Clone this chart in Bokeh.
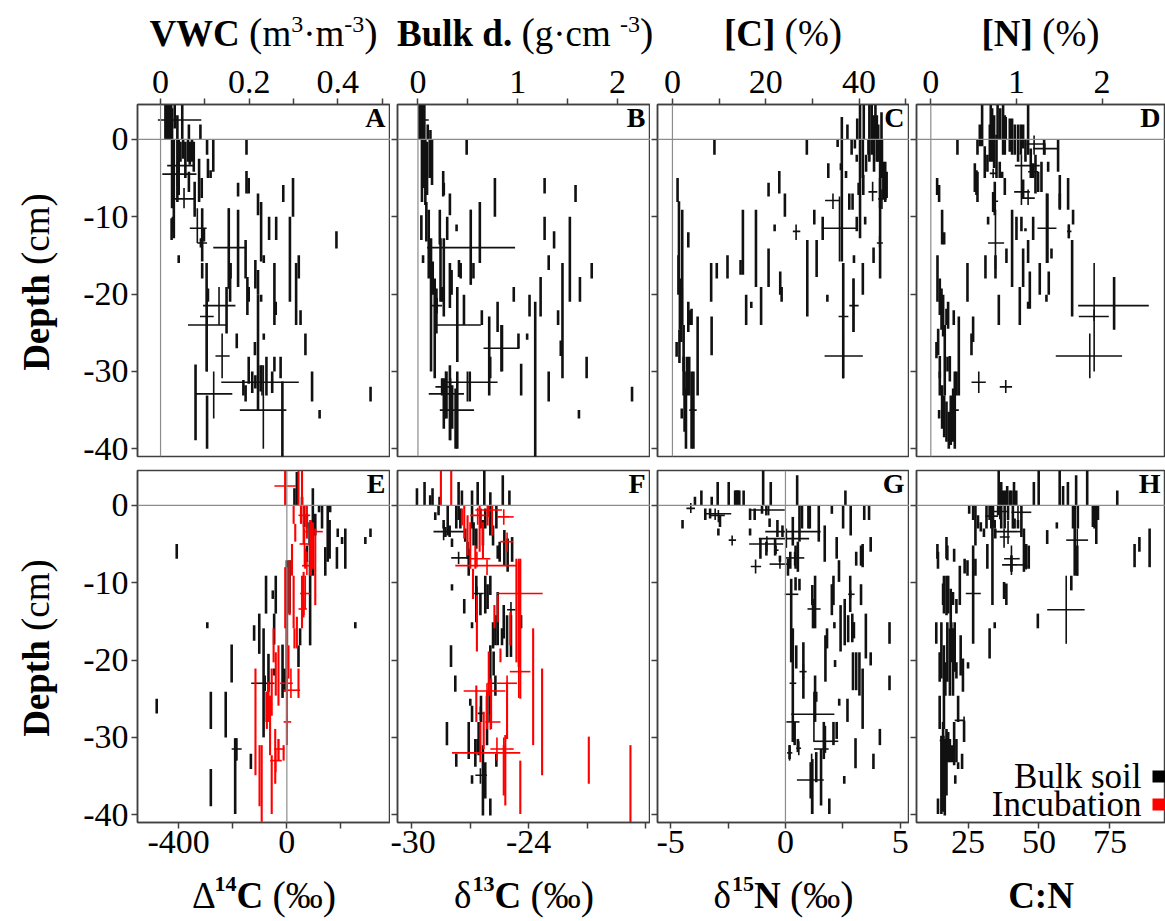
from bokeh.plotting import figure
from bokeh.layouts import row, column
from bokeh.models import Range1d, FixedTicker, Label, Span, BoxAnnotation, Div, Spacer
from bokeh.core.properties import value
from bokeh.embed import file_html
from bokeh.resources import INLINE

# ---------------- data (x value, depth top, depth bottom) ----------------
DEPTH_TICKS = [-40, -30, -20, -10, 0]
DEPTH_LABELS = {-40: "-40", -30: "-30", -20: "-20", -10: "-10", 0: "0"}
DEPTH_RANGE = (-41.0, 4.5)

# Panel A : VWC (m3 m-3)
A_TICKS = [0, 0.1, 0.2, 0.3, 0.4, 0.5]
A_LABELS = {0: "0", 0.1: "", 0.2: "0.2", 0.3: "", 0.4: "0.4", 0.5: ""}
A_SEGS = [
    (0.011, 5, 0), (0.014, 5, 0), (0.017, 5, 0), (0.021, 5, 0), (0.024, 5, 0), (0.026, 4.0, 0),
    (0.032, 5, 1.4), (0.038, 3.1, 0), (0.049, 5, 0), (0.064, 1.9, 0), (0.090, 1.9, 0),
    (0.026, 0, -8.9), (0.030, 0, -12.8), (0.038, 0, -8.1), (0.041, 0, -7.2), (0.045, -0.3, -2.9),
    (0.051, 0, -2.5), (0.056, -0.3, -5.0), (0.062, 0, -2.9), (0.066, -0.3, -3.3), (0.071, 0, -2.9),
    (0.075, -0.3, -4.2), (0.105, 0, -2.0), (0.107, -2.5, -5.0), (0.113, -4.0, -5.0), (0.119, 0, -4.2),
    (0.194, 0, -2.0), (0.194, -4.1, -7.0), (0.199, -5.0, -7.0), (0.175, -5.6, -7.4), (0.064, -4.2, -6.8),
    (0.077, -5.5, -10.0), (0.087, -2.5, -8.1), (0.093, -5.0, -7.6), (0.094, -8.9, -15.8),
    (0.098, -11.5, -13.2), (0.028, -10.0, -11.9), (0.041, -15.0, -16.0), (0.025, -10.2, -13.0),
    (0.154, -8.9, -19.3), (0.175, -9.1, -19.1), (0.192, -13.0, -18.0), (0.214, -15.6, -19.3),
    (0.220, -7.0, -9.8), (0.227, -8.1, -15.8), (0.233, -15.0, -16.0), (0.245, -10.0, -13.0),
    (0.261, -10.0, -13.0), (0.277, -5.9, -8.1), (0.299, -5.0, -10.0), (0.292, -10.0, -21.0),
    (0.312, -15.0, -18.0), (0.306, -16.0, -24.0), (0.316, -22.1, -24.0), (0.257, -16.0, -24.0),
    (0.260, -21.0, -22.7), (0.327, -25.1, -27.9), (0.397, -11.9, -14.1), (0.474, -32.0, -33.9),
    (0.342, -30.0, -33.9), (0.359, -35.0, -36.1), (0.094, -16.0, -18.0), (0.104, -16.0, -30.0),
    (0.107, -19.3, -21.0), (0.157, -16.0, -21.0), (0.158, -16.0, -18.0), (0.196, -17.8, -22.7),
    (0.199, -19.1, -21.0), (0.220, -16.9, -20.1), (0.227, -20.1, -21.0), (0.233, -25.1, -25.9),
    (0.213, -26.2, -27.9), (0.172, -25.1, -27.0), (0.220, -20.1, -35.0), (0.199, -28.1, -31.6),
    (0.207, -30.0, -32.8), (0.214, -30.5, -32.2), (0.226, -29.2, -32.6), (0.239, -28.1, -33.1),
    (0.252, -30.0, -32.8), (0.257, -28.1, -30.0), (0.271, -28.1, -30.9), (0.275, -31.3, -41.5),
    (0.187, -31.1, -33.1), (0.192, -31.8, -33.9), (0.079, -29.1, -38.9), (0.105, -33.1, -40.0),
    (0.149, -19.1, -25.1),
]
# crosses: (x, depth, x low, x high, depth top, depth bottom)
A_CROSS = [
    (0.017, 2.5, -0.006, 0.092, 5.0, 0.0), (0.041, -3.4, 0.015, 0.077, -2.0, -5.0),
    (0.038, -4.5, 0.004, 0.081, -3.0, -6.0), (0.053, -7.7, 0.030, 0.077, -6.3, -8.9),
    (0.083, -11.5, 0.066, 0.104, -8.9, -13.4), (0.090, -13.4, 0.083, 0.105, -12.8, -14.0),
    (0.154, -14.0, 0.119, 0.194, -8.9, -19.3), (0.132, -21.5, 0.096, 0.169, -19.1, -24.0),
    (0.105, -22.9, 0.089, 0.120, -21.5, -24.0), (0.105, -24.0, 0.062, 0.149, -20.1, -30.0),
    (0.139, -28.0, 0.124, 0.156, -25.1, -30.9), (0.229, -31.4, 0.137, 0.312, -29.2, -33.1),
    (0.232, -35.0, 0.179, 0.284, -29.2, -40.0), (0.120, -32.9, 0.079, 0.162, -30.0, -36.1),
]

# Panel B : bulk density (g cm-3)
B_TICKS = [0, 0.5, 1, 1.5, 2]
B_LABELS = {0: "0", 0.5: "", 1: "1", 1.5: "", 2: "2"}
B_SEGS = [
    (0.013, 5, 0), (0.030, 5, 0), (0.047, 5, 0), (0.064, 5, 0), (0.098, 1.9, 0), (0.125, 1.2, 0),
    (0.040, 0, -8.1), (0.057, 0, -6.3), (0.074, 0, -8.5), (0.091, -0.3, -7.2), (0.118, 0, -5.0),
    (0.141, 0, -5.9), (0.488, 0, -2.0), (0.253, -4.1, -7.4), (0.259, -5.6, -7.2), (0.320, -7.0, -9.8),
    (0.387, -11.0, -11.9), (0.219, -9.1, -13.6), (0.293, -10.0, -13.0), (0.529, -9.1, -18.8),
    (0.620, -8.1, -16.0), (0.771, -5.0, -10.0), (1.269, -5.0, -7.0), (1.269, -10.0, -13.0),
    (1.364, -11.9, -14.1), (1.579, -5.9, -8.1), (1.522, -10.0, -21.0), (1.310, -15.0, -16.9),
    (1.741, -16.0, -18.0), (1.448, -16.0, -30.9), (1.623, -17.8, -21.0), (0.960, -19.1, -21.0),
    (1.118, -20.1, -22.9), (1.175, -21.0, -41.5), (1.229, -17.8, -22.9), (1.404, -22.1, -24.0),
    (1.094, -25.1, -25.9), (1.431, -26.0, -28.0), (1.690, -28.1, -30.9), (2.145, -32.0, -33.9),
    (1.613, -35.0, -36.1), (1.034, -29.0, -33.1), (1.310, -30.0, -33.9), (0.714, -22.9, -33.1),
    (0.798, -21.0, -24.9), (0.842, -24.0, -30.0), (0.724, -28.1, -30.9), (1.007, -25.1, -27.0),
    (0.034, -9.8, -13.0), (0.051, -15.0, -16.0), (0.084, -8.1, -13.2), (0.108, -9.1, -18.0),
    (0.131, -12.8, -30.0), (0.148, -15.8, -20.1), (0.168, -18.0, -30.9), (0.185, -19.3, -25.1),
    (0.226, -12.8, -21.0), (0.242, -19.1, -21.0), (0.259, -12.8, -22.9), (0.320, -16.0, -21.8),
    (0.337, -16.9, -20.1), (0.394, -19.1, -28.8), (0.411, -15.6, -17.8), (0.428, -16.0, -18.0),
    (0.461, -20.1, -24.0), (0.556, -16.0, -18.0), (0.519, -30.0, -33.9), (0.640, -22.1, -24.0),
    (0.242, -30.9, -33.1), (0.259, -30.9, -37.4), (0.286, -30.0, -36.1), (0.320, -29.2, -38.9),
    (0.343, -31.8, -37.4), (0.377, -32.2, -40.0), (0.394, -30.0, -40.0),
]
B_CROSS = [
    (0.040, 2.5, 0.007, 0.108, 3.5, 1.5), (0.529, -14.0, 0.091, 0.973, -9.1, -18.8),
    (0.192, -21.5, 0.141, 0.242, -20.5, -22.5), (0.394, -24.0, 0.168, 0.630, -19.1, -28.8),
    (0.832, -27.0, 0.657, 1.017, -24.0, -30.0), (0.495, -31.4, 0.242, 0.798, -30.0, -33.9),
    (0.276, -32.9, 0.108, 0.461, -30.0, -36.1), (0.327, -35.0, 0.219, 0.562, -30.9, -38.9),
    (0.276, -32.0, 0.175, 0.327, -31.0, -33.0),
]

# Panel C : [C] (%)
C_TICKS = [0, 10, 20, 30, 40, 50]
C_LABELS = {0: "0", 10: "", 20: "20", 30: "", 40: "40", 50: ""}
C_SEGS = [
    (1.1, -5.0, -8.1), (2.1, -9.1, -24.0), (3.4, -12.0, -14.0), (1.3, -15.0, -20.1), (1.6, -18.0, -24.6),
    (2.0, -19.3, -24.0), (1.5, -24.6, -28.9), (0.9, -26.2, -28.1), (2.4, -28.1, -33.1), (3.4, -21.0, -24.9),
    (3.8, -22.1, -24.0), (4.1, -21.9, -24.0), (5.4, -22.9, -33.1), (3.1, -28.1, -33.1), (2.6, -30.0, -37.8),
    (2.9, -32.2, -40.0), (3.6, -28.1, -33.1), (4.1, -30.0, -40.0), (4.5, -30.0, -40.0), (2.0, -34.8, -36.1),
    (2.4, -24.0, -30.0), (1.9, -20.1, -26.2), (1.4, -8.0, -20.0),
    (9.0, 0, -2.0), (28.8, 0, -2.0), (8.3, -16.0, -21.0), (9.5, -16.0, -18.0), (11.8, -15.0, -18.0),
    (8.4, -22.9, -27.9), (15.1, -9.1, -17.5), (14.6, -15.6, -17.5), (17.9, -9.1, -19.1), (15.8, -20.1, -24.0),
    (16.9, -21.0, -21.8), (19.0, -19.1, -24.0), (20.6, -14.1, -19.1), (20.6, -5.6, -7.4), (22.9, -4.1, -7.0),
    (24.1, -7.0, -10.0), (21.9, -11.0, -11.9), (23.1, -17.1, -20.1), (23.4, -19.1, -21.0), (28.9, -13.0, -22.9),
    (30.9, -13.0, -17.8), (30.4, -9.1, -11.0), (32.2, -10.0, -13.0), (33.4, -3.1, -5.0), (33.2, -20.1, -21.0),
    (35.4, 0, -1.0), (36.3, 2.9, -15.8), (36.6, -16.0, -30.9), (38.8, -18.0, -24.9), (38.9, -15.0, -16.0),
    (40.8, -16.0, -20.1), (43.1, -14.0, -16.0), (44.5, -5.0, -18.0), (41.3, -10.0, -11.0), (39.5, -10.0, -11.9),
    (38.6, -7.0, -9.1), (37.9, -7.0, -9.1), (37.2, -4.1, -5.0), (36.1, -3.1, -4.0),
    (37.5, 1.9, 0), (38.4, 0, -2.0), (39.1, 0, -1.2), (39.6, 2.7, 0), (40.2, 5, -12.8), (40.8, 0, -5.0),
    (42.2, 5, -2.9), (42.7, 5, -2.0), (43.2, 3.1, -4.2), (43.8, 3.1, -2.9), (44.1, 1.9, -2.9), (44.5, 0, -8.9),
    (44.9, 0, -5.0), (45.2, -2.9, -7.6), (45.6, -2.9, -8.1), (45.9, -4.2, -7.6), (42.0, 0, -2.0),
    (41.5, -2.0, -4.2), (40.9, -4.6, -7.2), (39.5, -2.0, -2.9), (39.9, -5.6, -7.2), (41.0, 5, 0),
    (43.5, 5, 0), (44.8, 3.5, 0),
]
C_CROSS = [
    (4.4, -35.0, 3.6, 5.2, -33.5, -36.5), (34.4, -7.9, 32.7, 35.9, -7.0, -9.0),
    (35.8, -11.5, 32.0, 39.7, -7.4, -15.8), (26.5, -11.9, 25.8, 27.4, -11.0, -13.0),
    (36.6, -22.9, 35.6, 37.7, -16.0, -30.9), (38.8, -21.5, 37.9, 39.9, -18.0, -24.9),
    (36.6, -28.0, 32.6, 40.8, -25.1, -30.9), (42.9, -6.8, 42.0, 43.9, -5.5, -8.0),
    (44.9, -7.7, 44.1, 45.9, -6.5, -9.0), (44.4, -13.4, 43.8, 45.1, -12.5, -14.0),
]

# Panel D : [N] (%)
D_TICKS = [0, 1, 2]
D_LABELS = {0: "0", 1: "1", 2: "2"}
D_SEGS = [
    (0.074, -5.0, -7.2), (0.097, -5.9, -8.1), (0.132, -9.1, -13.6), (0.156, -12.0, -13.6), (0.078, -15.0, -21.0),
    (0.105, -18.0, -22.7), (0.125, -19.3, -24.6), (0.144, -20.1, -25.5), (0.086, -24.5, -27.9), (0.066, -26.2, -28.3),
    (0.105, -28.0, -30.9), (0.163, -24.0, -33.1), (0.183, -21.9, -24.0), (0.195, -28.1, -30.0), (0.105, -30.0, -33.1),
    (0.132, -31.8, -37.4), (0.156, -33.1, -38.5), (0.183, -33.9, -39.1), (0.210, -35.2, -40.0), (0.233, -33.1, -39.5),
    (0.261, -32.2, -39.1), (0.280, -30.0, -40.0), (0.300, -30.0, -33.1), (0.268, -22.1, -24.0), (0.327, -22.9, -33.1),
    (0.097, -35.0, -36.1), (0.202, -21.0, -24.5), (0.222, -28.0, -31.3),
    (0.311, 0, -2.0), (0.514, -3.1, -6.8), (0.533, -4.0, -7.2), (0.545, -4.2, -8.1), (0.428, -16.0, -21.0),
    (0.475, -25.1, -27.9), (0.494, -22.9, -26.2), (0.638, -15.0, -18.0), (0.669, -10.0, -11.0), (0.755, -15.0, -18.0),
    (0.794, -20.1, -24.0), (0.864, -5.0, -7.2), (0.883, -14.1, -16.0), (0.949, -9.1, -19.1), (1.000, -10.0, -13.0),
    (1.039, -19.1, -24.0), (1.078, -14.1, -19.1), (1.058, -10.0, -11.9), (1.136, -13.0, -16.0), (1.156, -17.1, -21.9),
    (1.195, -10.0, -13.0), (1.272, -16.0, -20.1), (1.362, -7.0, -16.0), (1.377, -17.1, -20.1), (1.409, -14.1, -15.4),
    (1.350, -20.1, -21.0), (1.506, -7.0, -9.1), (1.603, -5.0, -9.1), (1.661, -9.1, -11.0), (1.650, -13.0, -22.9),
    (1.611, -11.0, -12.8), (1.136, -21.0, -21.9), (1.078, -5.2, -7.6), (1.105, -11.5, -11.9), (2.140, -17.8, -24.6),
    (0.545, 0, -2.0), (0.572, 1.9, -0.9), (0.599, 4.5, -0.9), (0.630, -0.9, -5.0), (0.661, -2.0, -4.2),
    (0.689, 1.9, -2.9), (0.716, 4.0, -2.9), (0.739, 3.1, -3.7), (0.767, 0.6, -5.0), (0.805, -2.9, -5.0),
    (0.833, -4.2, -5.0), (0.844, 5, -2.0), (0.864, 3.1, -2.0), (0.875, 2.9, 0), (0.922, 2.7, -1.6),
    (0.949, 2.7, -2.0), (0.981, 1.9, -2.0), (1.019, 1.9, -2.9), (1.051, 1.9, -2.0), (1.078, 1.9, -1.2),
    (1.105, 0, -2.9), (1.136, 4.5, -2.0), (1.167, -1.2, -5.0), (1.195, -3.1, -5.0), (1.222, -2.0, -7.0),
    (1.253, -4.2, -6.8), (1.292, -2.9, -6.8), (1.323, 0, -2.0), (1.370, -2.9, -4.2), (1.486, 0, -4.2),
    (1.506, -4.6, -8.9), (0.747, -5.5, -9.8), (0.728, -6.8, -9.4), (0.700, 5, 0), (0.780, 5, 0), (0.810, 4, 0),
]
D_CROSS = [
    (0.272, -35.0, 0.222, 0.327, -33.5, -36.5), (1.206, -0.6, 1.117, 1.323, 0.5, -2.0),
    (1.331, -1.2, 1.195, 1.486, -0.5, -2.0), (1.058, -3.4, 0.981, 1.272, -2.0, -5.0),
    (1.195, -4.2, 1.136, 1.253, -3.5, -5.0), (0.728, -4.4, 0.689, 0.767, -3.8, -5.0),
    (1.058, -6.8, 0.973, 1.156, -5.0, -8.5), (1.136, -7.6, 1.058, 1.214, -6.5, -8.5),
    (0.747, -8.0, 0.716, 0.786, -7.5, -8.5), (1.350, -11.5, 1.245, 1.467, -7.0, -16.0),
    (1.611, -11.9, 1.591, 1.642, -11.0, -12.8), (0.755, -13.4, 0.669, 0.856, -9.1, -16.8),
    (1.907, -21.5, 1.720, 2.545, -16.0, -30.0), (1.907, -22.9, 1.728, 2.078, -22.0, -23.5),
    (1.856, -28.0, 1.459, 2.233, -25.1, -30.9), (0.560, -31.4, 0.475, 0.642, -30.0, -32.8),
    (0.875, -32.0, 0.805, 0.949, -31.1, -32.8),
]

# Panel E : Delta14C (permil)
E_TICKS = [-400, -200, 0, 200]
E_LABELS = {-400: "-400", -200: "", 0: "0", 200: ""}
E_SEGS_BULK = [
    (-407, -5.0, -6.9), (-481, -25.0, -26.9), (-294, -15.1, -15.9), (-204, -18.0, -22.9), (-281, -24.1, -28.9),
    (-226, -24.1, -30.0), (-281, -34.1, -38.9), (-191, -30.1, -39.9), (-188, -30.1, -33.0), (-133, -32.1, -34.1),
    (-121, -15.5, -17.5), (-102, -14.0, -19.2), (-86, -15.9, -30.0), (-77, -9.1, -14.0), (-52, -11.0, -12.1),
    (-41, -9.1, -14.0), (-68, -19.2, -24.1), (-74, -24.1, -28.0), (-47, -14.0, -18.0), (-47, -21.1, -22.0),
    (-16, -18.0, -24.9), (-9, -21.1, -24.1), (0, -7.1, -21.1), (10, -7.1, -14.0), (28, 2.2, 0), (37, 4.3, 0),
    (56, 1.1, 0), (64, 0, -2.8), (74, -1.1, -3.0), (84, -2.2, -5.2), (96, 2.2, 0), (96, 0, -9.1),
    (105, -1.1, -3.9), (119, 0, -0.9), (130, 0, -3.0), (142, -5.4, -9.1), (151, 0, -7.3), (158, -1.9, -6.9),
    (160, 0, -0.9), (185, -5.4, -8.2), (188, -3.0, -4.1), (204, -4.1, -5.0), (216, -3.0, -8.2), (290, -4.1, -5.0),
    (309, -3.0, -4.1), (253, -15.1, -15.9), (86, -7.1, -18.1), (49, -15.9, -18.1), (43, -18.1, -20.9),
    (74, -5.2, -7.3), (86, -5.2, -9.1),
]
E_CROSS_BULK = [(-80, -23.0, -132, -46, -22.0, -24.0), (-185, -31.5, -204, -167, -30.1, -33.0)]
E_SEGS_INC = [
    (-6, 4.5, 0), (43, 4.5, 0), (56, 4.5, 0), (52, 0, -2.4), (25, 0, -2.4), (31, -2.4, -4.7), (62, 0, -5.0),
    (74, 0, -4.3), (86, -1.9, -9.1), (96, -2.2, -8.2), (105, -3.0, -12.9), (19, -5.0, -9.1), (10, -7.1, -14.2),
    (-6, -8.0, -15.9), (0, -8.0, -21.1), (25, -9.1, -15.9), (56, -9.1, -15.9), (37, -14.4, -18.5),
    (28, -15.9, -18.5), (43, -21.1, -24.9), (6, -18.1, -22.4), (0, -22.0, -31.0), (-31, -18.1, -25.9),
    (-41, -19.0, -24.6), (-49, -15.9, -20.3), (-56, -21.1, -27.2), (-62, -24.6, -32.3), (-68, -22.8, -28.0),
    (-74, -24.1, -28.9), (-93, -31.0, -40.9), (-101, -31.0, -38.9), (-116, -21.1, -34.9), (-43, -28.9, -36.0),
    (-56, -32.3, -39.9), (-31, -30.2, -33.0), (-12, -31.0, -33.0), (62, -8.6, -14.2), (68, -5.6, -8.2),
]
E_CROSS_INC = [
    (-6, 2.5, -46, 33, 4.5, 0), (62, -1.3, 43, 86, 0, -2.4), (90, -3.4, 68, 133, -1.9, -9.1),
    (65, -5.0, 47, 80, -3.0, -8.0), (74, -7.8, 56, 93, -6.0, -9.0), (68, -11.4, 49, 86, -9.1, -13.4),
    (62, -13.4, 43, 74, -12.0, -14.5), (0, -23.0, -25, 22, -21.0, -25.0), (15, -23.9, -12, 49, -21.1, -24.9),
    (0, -28.0, -12, 16, -27.0, -29.0), (-31, -31.5, -46, -9, -30.2, -33.0), (-41, -33.0, -62, -19, -31.5, -34.5),
]

# Panel F : delta13C (permil)
F_TICKS = [-30, -27, -24, -21, -18]
F_LABELS = {-30: "-30", -27: "", -24: "-24", -21: "", -18: ""}
F_SEGS_BULK = [
    (-29.74, 2.2, 0), (-29.35, 3.0, 0), (-29.06, 1.3, 0), (-28.94, 2.2, 0), (-28.58, 1.1, 0), (-27.60, 3.0, 0),
    (-27.43, 1.9, 0), (-26.91, 1.9, 0), (-26.62, 3.0, 0), (-26.28, 4.5, 0), (-25.97, 1.7, 0), (-25.33, 3.9, 0),
    (-24.99, 1.9, 0), (-28.80, -0.9, -1.9), (-28.63, 0, -1.3), (-28.37, -1.9, -3.0), (-28.28, -2.8, -4.1),
    (-28.16, 0, -3.9), (-28.06, -2.6, -4.1), (-27.94, -4.3, -5.4), (-27.72, 0, -3.0), (-27.60, 0, -1.9),
    (-27.51, -0.4, -3.0), (-27.26, -3.0, -4.7), (-27.14, -4.7, -6.9), (-27.08, -5.6, -9.1), (-26.91, 0, -3.0),
    (-26.83, -2.2, -5.2), (-26.69, -3.0, -5.6), (-26.48, -0.4, -3.0), (-26.35, -1.9, -5.2), (-26.23, -0.4, -3.0),
    (-25.97, 0, -3.9), (-25.83, -2.6, -5.2), (-25.66, 0, -3.0), (-25.59, -5.2, -6.9), (-25.49, -4.7, -7.3),
    (-25.25, -3.2, -7.8), (-25.08, -4.3, -8.6), (-24.85, -4.1, -7.3), (-27.94, -10.2, -11.0), (-27.31, -12.1, -14.0),
    (-26.91, -15.1, -15.9), (-26.69, -9.1, -15.1), (-26.48, -11.4, -14.2), (-26.23, -9.1, -14.0), (-26.11, -10.2, -13.4),
    (-25.97, -9.1, -11.6), (-25.83, -15.1, -18.5), (-25.71, -14.2, -18.1), (-25.59, -11.2, -18.1), (-25.37, -15.9, -18.1),
    (-25.28, -12.9, -17.2), (-25.11, -14.2, -19.6), (-24.91, -14.2, -19.6), (-24.39, -14.2, -15.9), (-27.99, -18.1, -20.9),
    (-27.77, -22.0, -24.1), (-27.0, -25.0, -25.9), (-26.91, -25.9, -28.0), (-25.97, -18.1, -22.8), (-25.80, -18.9, -22.0),
    (-25.71, -22.0, -24.6), (-26.0, -23.9, -28.0), (-26.14, -24.6, -31.0), (-28.20, -28.0, -31.0), (-27.08, -28.0, -32.8),
    (-27.72, -32.1, -33.8), (-26.74, -30.2, -33.8), (-26.57, -28.0, -32.3), (-26.45, -24.6, -28.0), (-26.35, -31.0, -40.1),
    (-26.23, -33.2, -37.9), (-26.91, -34.9, -36.0), (-25.97, -37.9, -40.1), (-25.66, -32.1, -33.8), (-26.62, -30.2, -31.9),
]
F_CROSS_BULK = [
    (-28.37, -3.4, -28.89, -27.31, -2.5, -4.5), (-27.60, -6.8, -27.98, -27.08, -6.0, -7.6),
    (-26.66, -11.4, -26.83, -26.31, -10.5, -12.3), (-24.91, -13.5, -25.11, -24.68, -12.5, -14.5),
    (-25.97, -23.0, -26.11, -25.76, -22.0, -24.0), (-26.48, -26.9, -26.62, -26.35, -26.0, -27.8),
    (-26.48, -34.9, -26.74, -26.14, -34.0, -36.0),
]
F_SEGS_INC = [
    (-28.51, 4.5, 0), (-27.98, 4.5, 0), (-27.43, -0.4, -2.6), (-27.31, 0, -4.3), (-27.14, -1.3, -6.5),
    (-27.0, -2.2, -8.2), (-26.74, -5.2, -8.2), (-26.52, 0, -6.0), (-26.35, -2.2, -6.9), (-26.11, 0, -2.6),
    (-25.88, 0, -3.9), (-26.86, -8.2, -12.1), (-26.66, -11.6, -18.9), (-25.76, -12.9, -15.9), (-25.59, -11.6, -15.1),
    (-24.63, -6.9, -20.3), (-24.51, -7.3, -20.9), (-24.43, -6.9, -25.0), (-24.94, -13.8, -18.1), (-26.05, -18.9, -24.6),
    (-26.14, -24.1, -28.9), (-26.31, -26.7, -31.5), (-25.93, -22.4, -28.9), (-25.11, -22.8, -30.2), (-25.20, -29.7, -38.8),
    (-25.28, -31.0, -37.5), (-23.77, -15.9, -31.0), (-23.31, -21.1, -34.9), (-24.43, -33.0, -39.9), (-20.91, -29.9, -36.0),
    (-18.77, -31.0, -41.0), (-26.69, -23.3, -28.0), (-26.48, -28.0, -33.2), (-25.45, -18.5, -20.3),
]
F_CROSS_INC = [
    (-26.62, -1.3, -27.0, -26.23, -0.3, -2.5), (-26.05, -0.6, -26.74, -25.37, 0, -1.5),
    (-25.28, -1.5, -25.63, -24.77, -0.5, -2.5), (-25.11, -4.7, -25.45, -24.80, -3.5, -6.0),
    (-26.66, -6.9, -27.0, -25.97, -6.0, -8.0), (-26.14, -7.8, -27.77, -24.60, -7.0, -9.0),
    (-24.51, -11.4, -25.63, -23.28, -6.9, -20.9), (-24.51, -21.5, -24.97, -23.91, -18.1, -24.9),
    (-25.11, -23.0, -25.63, -24.60, -22.0, -24.0), (-26.14, -24.0, -27.34, -25.20, -23.0, -25.0),
    (-25.97, -28.0, -26.23, -25.45, -27.0, -29.0), (-25.28, -31.5, -25.97, -24.77, -30.0, -33.0),
    (-25.63, -32.0, -27.94, -24.43, -30.0, -33.0),
]

# Panel G : delta15N (permil)
G_TICKS = [-5, -2.5, 0, 2.5, 5]
G_LABELS = {-5: "-5", -2.5: "", 0: "0", 2.5: "", 5: "5"}
G_SEGS = [
    (-3.94, 1.1, 0), (-3.66, 1.9, 0), (-3.21, 1.1, 0), (-2.95, 3.0, 0), (-2.47, 3.0, 0), (-2.19, 1.9, 0),
    (-2.15, 1.9, 0), (-2.10, 1.9, 0), (-2.06, 1.9, 0), (-2.01, 1.9, 0), (-1.82, 1.9, 0), (-0.97, 4.5, 0),
    (-0.64, 3.0, 0), (0.51, 3.9, 0), (2.61, 1.9, 0),
    (-4.48, -1.9, -3.0), (-3.49, -0.4, -1.9), (-3.28, -0.4, -1.7), (-2.92, -3.0, -3.9), (-2.85, -1.3, -2.8),
    (-1.54, -0.4, -1.9), (-1.54, -3.0, -3.9), (-1.34, -0.4, -1.9), (-1.02, 0, -1.1), (-0.83, 0, -1.3),
    (-0.69, -1.7, -2.8), (-0.35, -1.9, -4.1), (-0.13, -2.6, -4.1), (-1.09, -4.3, -6.9), (-0.83, -4.7, -6.5),
    (-0.45, -4.3, -6.5), (-0.24, -6.5, -7.3), (0.11, -6.9, -9.1), (0.21, -6.0, -8.2), (0.32, -1.5, -5.2),
    (0.44, -5.2, -8.2), (0.54, -4.7, -8.6), (0.61, 0, -4.7), (0.72, 0, -3.0), (1.00, 0, -3.0), (1.06, 0, -3.0),
    (1.45, 0, -4.7), (1.71, -2.6, -7.3), (2.02, 0, -1.1), (2.23, -4.1, -6.9), (2.51, 0, -3.0), (2.84, 0, -3.9),
    (3.43, 0, -1.9), (3.64, 0, -1.9), (3.71, -4.1, -6.0), (3.29, -5.2, -7.8), (3.36, -5.0, -8.0), (3.08, -6.0, -7.8),
    (2.33, -7.1, -9.9), (2.82, -9.1, -13.8), (2.09, -9.1, -12.9), (2.02, -10.2, -14.2), (1.29, -9.1, -15.9),
    (1.17, -10.3, -12.9), (1.20, -12.1, -15.9), (0.61, -9.5, -11.0), (0.44, -9.3, -11.0), (0.25, -9.5, -20.3),
    (0.32, -15.9, -30.6), (0.47, -18.1, -21.1), (0.78, -17.7, -25.0), (1.29, -22.0, -28.0), (1.34, -24.1, -25.4),
    (1.81, -15.9, -18.5), (1.74, -16.8, -22.8), (2.13, -15.1, -15.9), (2.40, -12.9, -18.9), (2.58, -12.1, -18.1),
    (2.73, -14.2, -17.7), (2.91, -14.0, -17.7), (2.98, -15.1, -17.2), (3.29, -10.2, -12.9), (3.50, -14.0, -19.8),
    (3.71, -19.0, -20.7), (4.53, -15.1, -17.9), (4.53, -22.0, -23.9), (2.94, -19.0, -23.9), (3.08, -19.0, -23.9),
    (3.22, -19.0, -24.6), (3.36, -21.1, -28.9), (2.16, -20.0, -20.9), (2.34, -25.0, -25.9), (2.70, -25.0, -28.0),
    (4.11, -28.9, -31.0), (3.83, -32.1, -34.1), (3.05, -30.1, -34.0), (2.56, -35.0, -36.0), (2.09, -28.0, -31.0),
    (2.23, -28.0, -30.2), (1.91, -37.9, -39.9), (1.55, -31.5, -38.8), (1.34, -31.9, -35.8), (1.17, -32.8, -39.9),
    (1.10, -33.2, -37.9), (1.67, -28.0, -32.8), (0.40, -28.0, -31.0), (0.18, -31.0, -32.8), (0.54, -30.2, -31.9),
]
G_CROSS = [
    (-4.12, -0.4, -4.31, -3.94, 0.3, -1.0), (-3.06, -1.1, -3.52, -2.36, -0.4, -1.9),
    (-2.92, -1.3, -3.28, -2.64, -0.6, -2.2), (-2.32, -4.5, -2.47, -2.15, -3.9, -5.2),
    (-0.73, -0.6, -1.51, -0.03, 0, -1.3), (0.32, -3.4, -0.88, 1.53, -2.0, -5.0),
    (0.04, -4.3, -1.16, 1.03, -3.0, -5.5), (-0.81, -5.0, -1.58, -0.10, -4.0, -6.0),
    (-0.41, -5.8, -0.5, -0.3, -5.2, -6.3), (0.40, -6.8, 0.01, 0.82, -6.0, -7.8),
    (-0.24, -7.6, -0.69, 0.21, -7.0, -8.2), (-1.30, -7.9, -1.51, -1.06, -7.0, -8.8),
    (0.25, -11.5, -0.03, 0.56, -10.5, -12.3), (1.29, -13.4, 0.96, 1.53, -12.5, -14.5),
    (2.84, -11.5, 2.73, 3.01, -11.0, -12.0), (0.78, -21.5, 0.61, 0.92, -20.5, -22.5),
    (0.32, -23.0, 0.18, 0.47, -22.3, -23.6), (1.24, -27.0, 0.25, 2.13, -24.1, -30.6),
    (0.32, -28.0, 0.04, 0.61, -27.3, -28.7), (1.74, -30.5, 1.24, 2.30, -28.5, -32.0),
    (1.67, -31.5, 1.24, 1.88, -30.5, -32.5), (0.18, -32.0, 0.07, 0.30, -31.0, -33.0),
    (0.58, -31.4, 0.47, 0.68, -30.5, -32.3), (1.14, -35.5, 0.50, 1.67, -32.1, -39.9),
]

# Panel H : C:N
H_TICKS = [25, 50, 75]
H_LABELS = {25: "25", 50: "50", 75: "75"}
H_SEGS = [
    (35.8, 4.5, 0), (37.3, 1.9, 0), (38.1, 1.9, 0), (39.7, 1.9, 0), (40.3, 1.9, 0), (41.2, 3.0, 0), (42.0, 1.9, 0),
    (48.2, 3.0, 0), (49.9, 4.5, 0), (57.3, 4.5, 0), (60.2, 3.0, 0), (63.1, 3.9, 0), (67.0, 4.5, 0), (77.6, 1.9, 0),
    (36.7, 3.0, 0), (38.8, 2.5, 0), (58.5, 2.5, 0),
    (25.4, 0, -1.1), (26.8, 0, -1.9), (27.6, 0, -5.2), (28.5, -1.3, -3.0), (29.5, -2.2, -3.4), (30.6, -3.0, -4.1),
    (31.5, 0, -3.0), (32.6, 0, -1.9), (33.2, 0, -3.0), (33.8, 0, -2.8), (34.4, -1.9, -3.0), (35.6, 0, -1.3),
    (36.7, 0, -3.0), (37.9, 0, -3.0), (39.1, 0, -1.9), (40.8, 0, -3.0), (41.4, -1.7, -3.0), (42.6, -1.9, -3.0),
    (43.8, 0, -4.1), (44.7, -3.0, -8.6), (45.5, -5.0, -8.2), (46.4, -5.2, -8.2), (33.6, -2.2, -12.9),
    (31.8, -5.0, -8.2), (26.8, -5.2, -17.9), (27.6, -6.9, -9.1), (23.8, -6.9, -8.8), (24.8, -7.1, -9.1),
    (34.6, -3.0, -4.3), (37.7, -9.9, -12.1), (38.5, -10.1, -12.9), (40.3, -6.5, -8.6), (49.6, -14.0, -15.9),
    (52.9, -3.2, -5.0), (56.3, -2.2, -3.0), (62.0, 0, -3.0), (62.6, 0, -9.1), (63.7, 0, -3.0), (63.5, -5.2, -9.1),
    (61.4, -9.1, -11.0), (69.0, 0, -2.8), (69.6, 0, -3.0), (70.2, 0, -5.0), (70.8, 0, -1.9), (83.7, -5.0, -8.0),
    (85.4, -4.1, -6.0), (89.0, -3.0, -8.0), (34.4, -15.1, -15.9), (32.6, -15.9, -19.8), (25.0, -20.3, -21.1),
    (22.1, -7.8, -12.9),
    (14.2, -5.0, -6.9), (14.4, -6.0, -8.2), (17.4, -4.1, -6.9), (17.7, -5.2, -7.1), (20.1, -5.6, -7.3),
    (16.5, -9.1, -14.0), (17.4, -9.1, -14.2), (16.2, -10.1, -12.9), (18.0, -9.1, -14.0), (18.9, -10.8, -15.9),
    (19.7, -11.2, -12.9), (20.9, -12.1, -14.0), (13.8, -15.1, -17.9), (15.0, -19.0, -22.8), (15.6, -15.1, -22.4),
    (16.5, -18.1, -28.9), (17.0, -20.3, -24.6), (17.7, -15.1, -22.8), (18.6, -15.9, -24.6), (19.1, -15.1, -20.3),
    (19.7, -15.9, -24.6), (20.3, -15.1, -21.5), (20.9, -20.3, -22.4), (21.5, -24.6, -28.0), (22.4, -16.8, -22.0),
    (23.2, -19.8, -24.1), (15.0, -24.6, -28.9), (15.6, -29.8, -39.9), (16.2, -28.0, -39.6), (16.8, -30.2, -40.1),
    (17.4, -28.9, -37.5), (18.0, -29.3, -33.2), (18.6, -30.2, -33.2), (19.4, -31.0, -33.2), (20.1, -28.0, -33.6),
    (20.9, -30.2, -33.2), (21.5, -33.2, -34.1), (22.9, -32.1, -34.1), (14.4, -37.9, -39.9), (20.5, -34.9, -36.0),
    (23.6, -27.8, -30.6),
]
H_CROSS = [
    (33.8, -1.4, 31.1, 35.6, -0.6, -2.2), (36.2, -0.8, 33.5, 39.1, 0, -1.8), (42.6, -0.9, 40.3, 47.3, 0, -2.0),
    (39.1, -3.4, 34.6, 44.0, -2.0, -5.0), (37.7, -4.1, 36.2, 39.7, -3.0, -5.5), (40.3, -6.9, 37.7, 43.2, -5.2, -8.2),
    (40.3, -7.7, 37.0, 44.7, -6.5, -9.0), (45.5, -7.9, 45.0, 46.0, -7.5, -8.3), (63.5, -4.5, 59.6, 67.3, -3.0, -9.1),
    (26.8, -11.4, 24.2, 29.5, -9.1, -13.8), (59.6, -13.5, 52.9, 66.1, -9.1, -17.9), (23.6, -27.8, 20.3, 23.6, -27.3, -28.3),
    (16.5, -30.4, 15.0, 18.0, -29.8, -31.0),
]

LEGEND_NAMES = ["Bulk soil", "Incubation"]

# ---------------- styling / layout ----------------
FONT = "Liberation Serif"
CSS_FONT = "'Liberation Serif', 'Times New Roman', serif"
TICK_PX = "34px"
COL_LEFT = [137, 397, 657, 916]
FRAME_W = [253, 253, 252, 249]
FRAME_H = 352
BLACK = "#111111"
RED = "#ff0000"
FRAME_COL = "#404040"
LABEL_SHIFT = 11   # baseline correction for canvas labels


def draw(p, segs, crosses, color, lw):
    xs = [s[0] for s in segs]
    p.segment(x0=xs, y0=[s[1] for s in segs], x1=xs, y1=[s[2] for s in segs],
              line_color=color, line_width=lw)
    if crosses:
        cx = [c[0] for c in crosses]
        cy = [c[1] for c in crosses]
        p.segment(x0=[c[2] for c in crosses], y0=cy, x1=[c[3] for c in crosses], y1=cy,
                  line_color=color, line_width=1.6)
        p.segment(x0=cx, y0=[c[4] for c in crosses], x1=cx, y1=[c[5] for c in crosses],
                  line_color=color, line_width=1.6)


def make_panel(row_i, col, xr, ticks, labels, letter, zero_x):
    top_b = 54 if row_i == 0 else 2
    bot_b = 12 if row_i == 0 else 46
    left_b = 57 if col == 0 else 7
    p = figure(frame_width=FRAME_W[col], frame_height=FRAME_H, output_backend="svg", toolbar_location=None,
               x_range=Range1d(*xr), y_range=Range1d(*DEPTH_RANGE),
               x_axis_location="above" if row_i == 0 else "below",
               min_border_left=left_b, min_border_right=0, min_border_top=top_b, min_border_bottom=bot_b,
               background_fill_color="white", border_fill_color=None)
    p.grid.visible = False
    p.outline_line_color = FRAME_COL
    p.outline_line_width = 1.5
    for ax in (p.xaxis[0], p.yaxis[0]):
        ax.axis_line_color = FRAME_COL
        ax.axis_line_width = 1.5
        ax.major_tick_line_color = FRAME_COL
        ax.major_tick_line_width = 1.5
        ax.major_tick_out = 6
        ax.major_tick_in = 0
        ax.minor_tick_line_color = None
        ax.major_label_text_font = FONT
        ax.major_label_text_font_size = TICK_PX
        ax.major_label_text_color = "black"
    p.xaxis[0].ticker = FixedTicker(ticks=ticks)
    p.xaxis[0].major_label_overrides = labels
    p.xaxis[0].major_label_standoff = 6 if row_i == 0 else 2
    p.yaxis[0].ticker = FixedTicker(ticks=DEPTH_TICKS)
    if col == 0:
        p.yaxis[0].major_label_overrides = DEPTH_LABELS
        p.yaxis[0].major_label_standoff = 3
    else:
        p.yaxis[0].major_label_overrides = {t: "" for t in DEPTH_TICKS}
        p.yaxis[0].major_label_standoff = 0
    p.add_layout(Span(location=0, dimension="width", line_color="#8c8c8c", line_width=1.2))
    if zero_x:
        p.add_layout(Span(location=0, dimension="height", line_color="#8c8c8c", line_width=1.2))
    p.add_layout(Label(x=FRAME_W[col] - 5, y=FRAME_H - 24 + LABEL_SHIFT, x_units="screen", y_units="screen",
                       text=letter, text_font=FONT, text_font_size="28px", text_font_style="bold",
                       text_color="black", text_align="right", text_baseline="alphabetic"))
    return p


pA = make_panel(0, 0, (-0.052, 0.519), A_TICKS, A_LABELS, "A", True)
pB = make_panel(0, 1, (-0.205, 2.33), B_TICKS, B_LABELS, "B", True)
pC = make_panel(0, 2, (-3.2, 50.8), C_TICKS, C_LABELS, "C", True)
pD = make_panel(0, 3, (-0.167, 2.74), D_TICKS, D_LABELS, "D", True)
pE = make_panel(1, 0, (-552, 383), E_TICKS, E_LABELS, "E", True)
pF = make_panel(1, 1, (-30.74, -17.74), F_TICKS, F_LABELS, "F", False)
pG = make_panel(1, 2, (-5.57, 5.4), G_TICKS, G_LABELS, "G", True)
pH = make_panel(1, 3, (6.83, 94.6), H_TICKS, H_LABELS, "H", False)

LW = 2.6
draw(pA, A_SEGS, A_CROSS, BLACK, LW)
draw(pB, B_SEGS, B_CROSS, BLACK, LW)
draw(pC, C_SEGS, C_CROSS, BLACK, LW)
draw(pD, D_SEGS, D_CROSS, BLACK, LW)
draw(pE, E_SEGS_BULK, E_CROSS_BULK, BLACK, LW)
draw(pE, E_SEGS_INC, E_CROSS_INC, RED, 2.1)
draw(pF, F_SEGS_BULK, F_CROSS_BULK, BLACK, LW)
draw(pF, F_SEGS_INC, F_CROSS_INC, RED, 2.1)
draw(pG, G_SEGS, G_CROSS, BLACK, LW)
draw(pH, H_SEGS, H_CROSS, BLACK, LW)

# legend inside panel H
LEG_Y = [787, 815]
LEG_COLORS = ["black", "red"]
hb = 470 + FRAME_H
for name, yb, colr in zip(LEGEND_NAMES, LEG_Y, LEG_COLORS):
    pH.add_layout(Label(x=1141 - 916, y=hb - yb + LABEL_SHIFT, x_units="screen", y_units="screen", text=name,
                        text_font=FONT, text_font_size="35px", text_color="black",
                        text_align="right", text_baseline="alphabetic"))
    pH.add_layout(BoxAnnotation(left=1152 - 916, right=1166 - 916, bottom=hb - yb + 5, top=hb - yb + 17,
                                left_units="screen", right_units="screen", top_units="screen",
                                bottom_units="screen", fill_color=colr, fill_alpha=1.0, line_color=None))

# ---------------- top titles and depth labels (HTML) ----------------
SUP = "font-size:24px;position:relative;top:-14px;"
PAR = "font-size:40px;"


def par(s):
    return f'<span style="{PAR}">{s}</span>'


def sup(s):
    return f'<span style="{SUP}">{s}</span>'


def title_div(html, w, h, pad_top):
    inner = (f'<div style="width:{w}px;height:{h}px;box-sizing:border-box;padding-top:{pad_top}px;'
             f'text-align:center;white-space:nowrap;font-family:{CSS_FONT};font-size:37px;'
             f'line-height:1;color:black;">{html}</div>')
    return Div(text=inner, width=w, height=h, margin=0)


def depth_div(h, pad_top, pad_bottom):
    inner = (f'<div style="width:80px;height:{h}px;box-sizing:border-box;padding-top:{pad_top}px;'
             f'padding-bottom:{pad_bottom}px;padding-right:8px;display:flex;align-items:center;'
             f'justify-content:center;">'
             f'<div style="transform:rotate(-90deg);white-space:nowrap;font-family:{CSS_FONT};'
             f'font-size:37px;line-height:1;color:black;"><b>Depth</b> {par("(")}cm{par(")")}</div></div>')
    return Div(text=inner, width=80, height=h, margin=0)


TOP_TITLES = [
    f'<b>VWC</b> {par("(")}m{sup("3")}·m{sup("-3")}{par(")")}',
    f'<b>Bulk d.</b> {par("(")}g·cm {sup("-3")}{par(")")}',
    f'<b>[C]</b> {par("(")}%{par(")")}',
    f'<b>[N]</b> {par("(")}%{par(")")}',
]
items = [Spacer(width=137, height=50, margin=0)]
for i, t in enumerate(TOP_TITLES):
    if i > 0:
        items.append(Spacer(width=7, height=50, margin=0))
    items.append(title_div(t, FRAME_W[i], 50, 13))
top_row = row(*items, spacing=0, margin=0)

# ---------------- bottom titles (canvas text) ----------------
REG_W = {' ': 0.25, '(': 0.333, ')': 0.333, 'm': 0.778, '·': 0.25, 'g': 0.5, 'c': 0.444, '-': 0.333,
         '%': 0.833, '‰': 1.0, 'Δ': 0.612, 'δ': 0.5}
BOLD_W = {'V': 0.722, 'W': 1.0, 'C': 0.722, 'B': 0.667, 'u': 0.556, 'l': 0.278, 'k': 0.556, ' ': 0.25,
          'd': 0.556, '.': 0.25, '[': 0.333, ']': 0.333, 'N': 0.722, 'D': 0.722, 'e': 0.444, 'p': 0.556,
          't': 0.333, 'h': 0.556, ':': 0.333}


def run_w(t, bold, size):
    tab = BOLD_W if bold else REG_W
    return sum(tab.get(ch, 0.5) for ch in t) * size


def text_fig(w, h):
    f = figure(width=w, height=h, x_range=Range1d(0, w), y_range=Range1d(0, h), output_backend="svg",
               toolbar_location=None, x_axis_type=None, y_axis_type=None, min_border=0,
               outline_line_color=None, border_fill_color=None, background_fill_color=None)
    f.grid.visible = False
    return f


def put_runs(f, runs, along, base):
    total = sum(run_w(t, b, s) for t, b, s, r in runs)
    pos = along - total / 2
    for t, b, s, r in runs:
        w = run_w(t, b, s)
        if t.strip():
            f.text(x=[pos], y=[base + r], text=[t], angle=0, text_font=value(FONT),
                   text_font_size=value(f"{s}px"), text_font_style=value("bold" if b else "normal"),
                   text_color="black", text_align="left", text_baseline="alphabetic")
        pos += w


T, S, P = 37, 22, 40
BOT_RUNS = [
    [("Δ", False, T, 0), ("14", True, S, 12), ("C", True, T, 0), (" ", False, T, 0), ("(", False, P, 0), ("‰", False, T, 0), (")", False, P, 0)],
    [("δ", False, T, 0), ("13", True, S, 12), ("C", True, T, 0), (" ", False, T, 0), ("(", False, P, 0), ("‰", False, T, 0), (")", False, P, 0)],
    [("δ", False, T, 0), ("15", True, S, 12), ("N", True, T, 0), (" ", False, T, 0), ("(", False, P, 0), ("‰", False, T, 0), (")", False, P, 0)],
    [("C:N", True, T, 0)],
]
bot_fig = text_fig(1165, 53)     # page y 868..921
for i, runs in enumerate(BOT_RUNS):
    put_runs(bot_fig, runs, COL_LEFT[i] + FRAME_W[i] / 2, 26)

panels_top = row(depth_div(418, 46, 0), pA, pB, pC, pD, spacing=0, margin=0)
panels_bot = row(depth_div(400, 0, 40), pE, pF, pG, pH, spacing=0, margin=0)

layout = column(top_row, panels_top, panels_bot, bot_fig, spacing=0, margin=0)
open("out.html", "w").write(file_html(layout, INLINE))
